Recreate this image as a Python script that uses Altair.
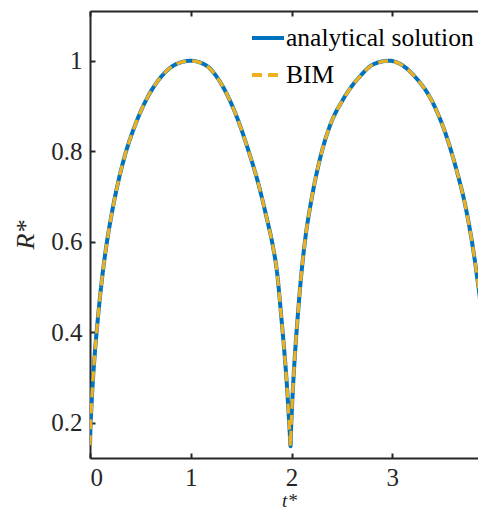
import altair as alt
import pandas as pd

# ---- data ----
t_vals = [0.000, 0.004, 0.012, 0.025, 0.045, 0.078, 0.115, 0.161, 0.21, 0.26,
          0.343, 0.443, 0.559, 0.708, 0.85, 1.00, 1.15, 1.30, 1.455, 1.57,
          1.67, 1.75, 1.816, 1.855, 1.90, 1.935, 1.955, 1.97, 1.982, 1.99,
          1.996, 2.005, 2.02, 2.04, 2.06, 2.08, 2.105, 2.131, 2.197, 2.28,
          2.379, 2.51, 2.677, 2.82, 2.97, 3.10, 3.207, 3.405, 3.538, 3.637,
          3.72, 3.787, 3.837, 3.887, 3.92, 3.94, 3.955]
r_analytical = [0.150, 0.185, 0.225, 0.280, 0.345, 0.430, 0.510, 0.589, 0.655, 0.712,
                0.788, 0.855, 0.914, 0.965, 0.992, 1.000, 0.990, 0.950, 0.877, 0.803,
                0.729, 0.656, 0.589, 0.535, 0.430, 0.340, 0.280, 0.225, 0.180, 0.148,
                0.190, 0.235, 0.300, 0.370, 0.430, 0.485, 0.545, 0.597, 0.692, 0.781,
                0.855, 0.914, 0.965, 0.993, 1.000, 0.990, 0.969, 0.906, 0.833, 0.759,
                0.685, 0.605, 0.530, 0.434, 0.320, 0.240, 0.160]
r_bim = list(r_analytical)

series_names = ["analytical solution", "BIM"]
series_colors = ["#0072BD", "#EDB120"]
series_dashes = [[1, 0], [10, 6]]
x_ticks = [0, 1, 2, 3]
y_ticks = [0.2, 0.4, 0.6, 0.8, 1.0]
x_domain = [0, 3.95]
y_domain = [0.122, 1.11]

n = len(t_vals)
df = pd.DataFrame({
    "t": t_vals + t_vals,
    "R": r_analytical + r_bim,
    "series": [series_names[0]] * n + [series_names[1]] * n,
})

W, H = 398, 447
AX = "#262626"
FONT = "Times New Roman, Liberation Serif, DejaVu Serif, serif"

xs = alt.Scale(domain=x_domain, nice=False, zero=False)
ys = alt.Scale(domain=y_domain, nice=False, zero=False)

legend = alt.Legend(
    orient="none", legendX=160, legendY=9, title=None,
    symbolType="stroke", symbolSize=1024, symbolStrokeWidth=4,
    labelFont=FONT, labelFontSize=25.5, labelColor="black", labelLimit=400,
    labelOffset=0, rowPadding=5, padding=0,
)
color = alt.Color("series:N", scale=alt.Scale(domain=series_names, range=series_colors),
                  legend=legend)
dash = alt.StrokeDash("series:N", scale=alt.Scale(domain=series_names, range=series_dashes),
                      legend=legend)

base = alt.Chart(df)

# main axes with labels (bottom / left)
main_x = alt.Axis(orient="bottom", values=x_ticks, format="d", ticks=False, grid=False,
                  domain=True, domainColor=AX, domainWidth=2,
                  labelFont=FONT, labelFontSize=25, labelColor=AX, labelPadding=7,
                  title="t*", titleFont=FONT, titleFontSize=19, titleFontStyle="italic",
                  titleFontWeight="normal", titleColor=AX, titlePadding=1)
main_y = alt.Axis(orient="left", values=y_ticks, format="~g", ticks=False, grid=False,
                  domain=True, domainColor=AX, domainWidth=2,
                  labelFont=FONT, labelFontSize=25, labelColor=AX, labelPadding=8,
                  title="R*", titleFont=FONT, titleFontSize=26, titleFontStyle="italic",
                  titleFontWeight="normal", titleColor=AX, titlePadding=12)

# inward ticks at bottom / left
in_bottom = alt.Axis(orient="top", offset=-H, values=x_ticks, labels=False, domain=False,
                     grid=False, ticks=True, tickSize=5, tickWidth=2, tickColor=AX, title=None)
in_left = alt.Axis(orient="right", offset=-W, values=y_ticks, labels=False, domain=False,
                   grid=False, ticks=True, tickSize=5, tickWidth=2, tickColor=AX, title=None)
# inward ticks at top (with top border) / right
in_top = alt.Axis(orient="bottom", offset=-H, values=x_ticks, labels=False, domain=True,
                  domainColor=AX, domainWidth=2,
                  grid=False, ticks=True, tickSize=5, tickWidth=2, tickColor=AX, title=None)
in_right = alt.Axis(orient="left", offset=-W, values=y_ticks, labels=False, domain=False,
                    grid=False, ticks=True, tickSize=5, tickWidth=2, tickColor=AX, title=None)

frame = base.transform_filter(alt.datum.series == series_names[0]).mark_line(
    opacity=0, clip=True
).encode(
    x=alt.X("t:Q", scale=xs, axis=in_top),
    y=alt.Y("R:Q", scale=ys, axis=in_right),
)

analytical = base.transform_filter(alt.datum.series == series_names[0]).mark_line(
    strokeWidth=4, clip=True, interpolate="monotone"
).encode(
    x=alt.X("t:Q", scale=xs, axis=main_x),
    y=alt.Y("R:Q", scale=ys, axis=main_y),
    color=color,
    strokeDash=dash,
)

bim = base.transform_filter(alt.datum.series == series_names[1]).mark_line(
    strokeWidth=3.2, clip=True, interpolate="monotone"
).encode(
    x=alt.X("t:Q", scale=xs, axis=in_bottom),
    y=alt.Y("R:Q", scale=ys, axis=in_left),
    color=color,
    strokeDash=dash,
)

chart = alt.layer(frame, analytical, bim).resolve_axis(
    x="independent", y="independent"
).properties(
    width=W, height=H,
    autosize=alt.AutoSizeParams(type="none"),
    padding={"left": 82, "top": 3, "right": -10, "bottom": 54},
    background="white",
).configure_view(stroke=None)

chart.save("out.html", embed_options={"renderer": "svg", "actions": False})
